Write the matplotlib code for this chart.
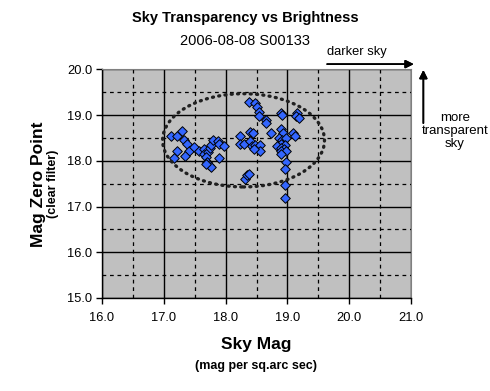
import matplotlib
matplotlib.use("Agg")
import matplotlib.pyplot as plt
from matplotlib.patches import Ellipse
from matplotlib.ticker import MultipleLocator

plt.rcParams['font.family'] = ['Liberation Sans', 'DejaVu Sans']

title = "Sky Transparency vs Brightness"
subtitle = "2006-08-08 S00133"

sky_mag = [17.11, 17.22, 17.30, 17.32, 17.37, 17.40, 17.22, 17.17, 17.34, 17.49,
           17.57, 17.65, 17.65, 17.71, 17.74, 17.76, 17.80, 17.87, 17.90, 17.97,
           17.89, 17.69, 17.70, 17.73, 17.76, 17.69,
           18.38, 18.47, 18.50, 18.54, 18.54, 18.65, 18.66, 18.23, 18.40, 18.45,
           18.23, 18.30, 18.39, 18.43, 18.48, 18.55, 18.55, 18.46, 18.74, 18.31,
           18.35, 18.38,
           18.89, 18.92, 18.89, 18.93, 18.86, 18.91, 18.97, 18.89, 18.96, 18.83,
           18.90, 18.94, 18.89, 18.97, 18.90, 18.97, 18.96, 18.96, 18.96, 19.09,
           19.13, 19.16, 19.14, 19.19]
zero_point = [18.54, 18.54, 18.66, 18.45, 18.36, 18.22, 18.22, 18.07, 18.10, 18.31,
              18.22, 18.27, 18.16, 18.20, 18.29, 18.34, 18.45, 18.43, 18.38, 18.32,
              18.07, 18.09, 17.98, 17.91, 17.87, 17.93,
              19.28, 19.26, 19.18, 19.07, 18.98, 18.89, 18.82, 18.54, 18.64, 18.60,
              18.38, 18.38, 18.43, 18.32, 18.34, 18.34, 18.22, 18.27, 18.60, 17.61,
              17.69, 17.72,
              19.05, 19.01, 18.69, 18.61, 18.49, 18.45, 18.49, 18.38, 18.34, 18.32,
              18.29, 18.27, 18.22, 18.22, 18.16, 17.98, 17.82, 17.47, 17.18, 18.60,
              18.55, 19.05, 18.99, 18.93]

ellipse_center = (18.29, 18.45)
ellipse_size = (2.62, 2.04)

x_ticks = [16.0, 17.0, 18.0, 19.0, 20.0, 21.0]
y_ticks = [15.0, 16.0, 17.0, 18.0, 19.0, 20.0]

fig = plt.figure(figsize=(4.9, 3.91), dpi=100)
ax = fig.add_axes([0.2082, 0.2379, 0.6306, 0.5844])
ax.set_facecolor('#C0C0C0')

ax.set_xlim(16, 21)
ax.set_ylim(15, 20)
ax.set_xticks(x_ticks)
ax.set_yticks(y_ticks)
ax.set_xticklabels([f"{v:.1f}" for v in x_ticks])
ax.set_yticklabels([f"{v:.1f}" for v in y_ticks])
ax.xaxis.set_minor_locator(MultipleLocator(0.5))
ax.yaxis.set_minor_locator(MultipleLocator(0.5))
ax.tick_params(which='major', direction='out', length=4, width=1, labelsize=9.3, color='black')
ax.tick_params(which='minor', length=0)
ax.tick_params(axis='x', pad=6)
ax.tick_params(axis='y', pad=3)

ax.grid(which='major', color='black', linestyle='-', linewidth=1)
ax.grid(which='minor', color='black', linestyle=(0, (3, 3)), linewidth=0.9)
ax.set_axisbelow(True)
for side in ['top', 'right']:
    ax.spines[side].set_color('#808080')
    ax.spines[side].set_linewidth(0.8)
for side in ['left', 'bottom']:
    ax.spines[side].set_color('black')
    ax.spines[side].set_linewidth(1)

ax.scatter(sky_mag, zero_point, marker='D', s=24, facecolor='#3366FF',
           edgecolor='black', linewidth=0.7, zorder=3)

ell = Ellipse(ellipse_center, ellipse_size[0], ellipse_size[1], fill=False,
              edgecolor='#202020', linestyle=(0, (0.3, 1.6)), linewidth=2.4,
              capstyle='round', zorder=4)
ax.add_patch(ell)

fig.text(0.5, 0.955, title, ha='center', va='center', fontsize=10.5, fontweight='bold')
fig.text(0.5, 0.895, subtitle, ha='center', va='center', fontsize=10.5)

fig.text(0.523, 0.118, "Sky Mag", ha='center', va='center', fontsize=12.5, fontweight='bold')
fig.text(0.523, 0.063, "(mag per sq.arc sec)", ha='center', va='center', fontsize=9, fontweight='bold')
fig.text(0.078, 0.53, "Mag Zero Point", ha='center', va='center', fontsize=12.5,
         fontweight='bold', rotation=90)
fig.text(0.108, 0.53, "(clear filter)", ha='center', va='center', fontsize=9,
         fontweight='bold', rotation=90)

fig.text(0.728, 0.866, "darker sky", ha='center', va='center', fontsize=9.3)
fig.add_artist(plt.annotate('', xy=(0.85, 0.836), xytext=(0.662, 0.836),
                            xycoords='figure fraction', textcoords='figure fraction',
                            arrowprops=dict(arrowstyle='-|>', color='black', lw=1.2,
                                            mutation_scale=12)))
fig.add_artist(plt.annotate('', xy=(0.864, 0.828), xytext=(0.864, 0.678),
                            xycoords='figure fraction', textcoords='figure fraction',
                            arrowprops=dict(arrowstyle='-|>', color='black', lw=1.2,
                                            mutation_scale=12)))
fig.text(0.928, 0.665, "more\ntransparent\nsky", ha='center', va='center', fontsize=9.5,
         linespacing=1.15)

fig.savefig("out.png", dpi=100)
